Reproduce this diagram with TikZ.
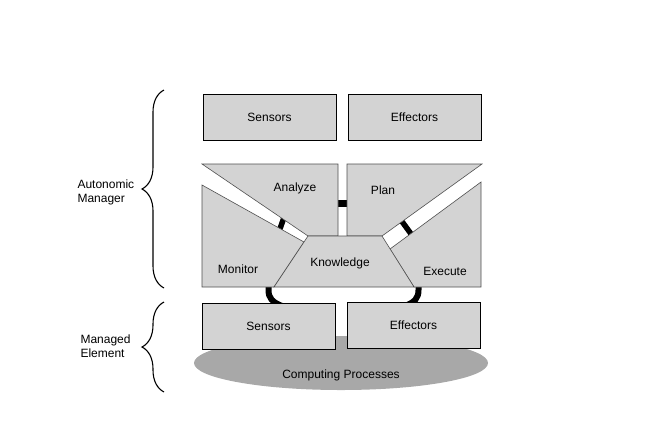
\documentclass[tikz,border=0pt]{standalone}
\usepackage{fontspec}
\setmainfont{Liberation Sans}
\usepackage{tikz}
\usetikzlibrary{decorations.pathreplacing}
\definecolor{partgray}{HTML}{D3D3D3}
\definecolor{procgray}{HTML}{A8A8A8}
\definecolor{edgegray}{HTML}{505050}

\begin{document}
\begin{tikzpicture}[x=1pt, y=-1pt,
        every node/.style={font=\fontsize{12}{14}\selectfont},
        box/.style={draw, fill=partgray, minimum width=133pt, minimum height=46pt, inner sep=0pt, text depth=-2pt},
        part/.style={draw=edgegray, fill=partgray, line width=0.6pt},
        link/.style={line width=6pt, black},
        curly/.style={decorate, decoration={brace, amplitude=22pt}, line width=1.1pt}]
    \useasboundingbox (0,0) rectangle (660,440);

    % managed element
    \fill[procgray] (341,363) ellipse [x radius=147, y radius=27];
    \node (procs) at (341,375) {Computing Processes};

    % links, drawn first so the parts cover their ends
    \draw[link, line width=7pt] (334,203.5) -- (351,203.5);
    \draw[link, line width=5.5pt] (287,209) -- (276,240);
    \draw[link, line width=5.5pt] (398,216) -- (414,238);
    \draw[link] (268.5,280) -- (268.5,290) .. controls (268.5,298) and (272,302) .. (282,306);
    \draw[link] (418.5,280) -- (418.5,290) .. controls (418.5,298) and (415,302) .. (405,306);

    % touch points
    \node[box] (sensorsT) at (269.5,117) {Sensors};
    \node[box] (effectorsT) at (414.5,117) {Effectors};
    \node[box] (sensorsB) at (268.5,326) {Sensors};
    \node[box] (effectorsB) at (413.5,325) {Effectors};

    % MAPE-K loop
    \draw[part] (202,164) -- (338,164) -- (338,236) -- (308,236) -- cycle;
    \draw[part] (347,164) -- (482,164) -- (382,236) -- (347,236) -- cycle;
    \draw[part] (202,185) -- (304,242) -- (274,287) -- (202,287) -- cycle;
    \draw[part] (481,182) -- (481,287) -- (414,287) -- (390,249) -- cycle;
    \draw[part] (308,236) -- (382,236) -- (414,287) -- (274,287) -- cycle;
    \node (analyze) at (295,188) {Analyze};
    \node (plan) at (383,190) {Plan};
    \node (monitor) at (238,269) {Monitor};
    \node (knowledge) at (340,263) {Knowledge};
    \node (execute) at (445,271) {Execute};

    % braces
    \draw[curly] (164,288) -- (164,90);
    \draw[curly] (164,392) -- (164,302);
    \node[anchor=west, align=left] (autonomic) at (74,192) {Autonomic\\Manager};
    \node[anchor=west, align=left] (managed) at (77,346) {Managed\\Element};
\end{tikzpicture}
\end{document}
